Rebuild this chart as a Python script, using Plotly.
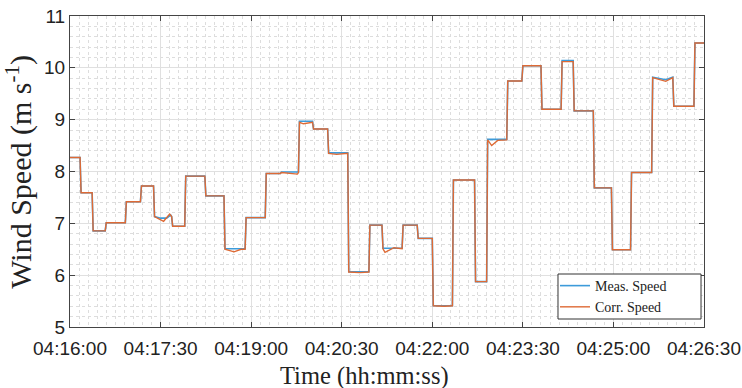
import numpy as np
import plotly.graph_objects as go

# Step boundaries in seconds after 04:16:00
step_start = [0, 11, 23, 36, 56, 71, 84, 102, 115, 135, 154, 175, 195, 210, 228,
              242, 257, 277, 298, 311, 331, 346, 361, 381, 403, 415, 435, 450, 469,
              489, 501, 521, 539, 558, 579, 600, 621, 630]

# Measured wind speed level on each step (m/s)
meas_level = [8.27, 7.59, 6.855, 7.01, 7.415, 7.72, 7.13, 6.945, 7.91, 7.53, 6.51,
              7.11, 7.96, 7.99, 8.97, 8.82, 8.36, 6.065, 6.965, 6.52, 6.965, 6.71,
              5.41, 7.835, 5.875, 8.62, 9.745, 10.04, 9.20, 10.14, 9.17, 7.685,
              6.49, 7.98, 9.82, 9.26, 10.48]

# Corrected wind speed level on each step (m/s)
corr_level = [8.27, 7.59, 6.855, 7.01, 7.415, 7.72, 7.13, 6.945, 7.91, 7.53, 6.50,
              7.11, 7.96, 7.98, 8.95, 8.82, 8.35, 6.06, 6.965, 6.51, 6.965, 6.71,
              5.41, 7.835, 5.875, 8.61, 9.745, 10.04, 9.20, 10.12, 9.17, 7.685,
              6.49, 7.98, 9.81, 9.26, 10.48]

# Short excursions inside a step
meas_extra_t = [90, 96, 100, 592]
meas_extra_v = [7.10, 7.10, 7.16, 9.77]
corr_extra_t = [93, 99, 163, 170, 226, 232, 265, 288, 313, 322, 372, 419, 425, 592]
corr_extra_v = [7.04, 7.18, 6.45, 6.50, 7.95, 8.92, 8.33, 6.05, 6.44, 6.53, 5.40,
                8.50, 8.60, 9.74]

# Axis ticks
tick_seconds = [0, 90, 180, 270, 360, 450, 540, 630]
tick_labels = ['04:16:00', '04:17:30', '04:19:00', '04:20:30',
               '04:22:00', '04:23:30', '04:25:00', '04:26:30']

SANS = 'Liberation Sans, Arial, sans-serif'
SERIF = 'Liberation Serif, Times New Roman, serif'


def build(levels, extra_t, extra_v):
    t, v = [], []
    n = len(levels)
    for i, lvl in enumerate(levels):
        t0, t1 = step_start[i], step_start[i + 1]
        end = t1 if i == n - 1 else t1 - 1
        t += [t0, end]
        v += [lvl, lvl]
    t += list(extra_t)
    v += list(extra_v)
    order = np.argsort(t, kind='stable')
    return np.array(t, dtype=float)[order], np.array(v)[order]


mt, mv = build(meas_level, meas_extra_t, meas_extra_v)
ct, cv = build(corr_level, corr_extra_t, corr_extra_v)

fig = go.Figure()
fig.add_trace(go.Scatter(x=mt, y=mv, mode='lines', name='Meas. Speed',
                         line=dict(color='#3D9BDA', width=1.6)))
fig.add_trace(go.Scatter(x=ct, y=cv, mode='lines', name='Corr. Speed',
                         line=dict(color='#DE6A35', width=1.4)))

axis_common = dict(
    showline=True, linecolor='#444444', linewidth=1, mirror='ticks',
    ticks='inside', ticklen=5, tickcolor='#444444', tickwidth=1,
    showgrid=True, gridcolor='#E0E0E0', gridwidth=1,
    zeroline=False, automargin=False,
)

fig.update_xaxes(range=[0, 630], tickvals=tick_seconds, ticktext=tick_labels,
                 ticklabelstandoff=4,
                 tickfont=dict(family=SANS, size=19, color='#222'),
                 minor=dict(dtick=9, tick0=0, showgrid=True, gridcolor='#DDDDDD',
                            griddash='dot', gridwidth=1, ticks=''),
                 **axis_common)
fig.update_yaxes(range=[5, 11], dtick=1, tick0=5,
                 tickfont=dict(family=SANS, size=19, color='#222'),
                 minor=dict(dtick=0.2, tick0=5, showgrid=True, gridcolor='#DDDDDD',
                            griddash='dot', gridwidth=1, ticks=''),
                 **axis_common)

# Legend frame (paper coordinates)
fig.add_shape(type='rect', xref='paper', yref='paper',
              x0=0.7697, x1=0.9953, y0=0.0257, y1=0.1704,
              line=dict(color='#333333', width=1), fillcolor='white', layer='above')

fig.update_layout(
    width=742, height=388,
    margin=dict(l=70, r=38, t=16, b=61),
    paper_bgcolor='white', plot_bgcolor='white',
    showlegend=True,
    legend=dict(x=0.7650, y=0.098, xanchor='left', yanchor='middle',
                bgcolor='rgba(0,0,0,0)', borderwidth=0,
                font=dict(family=SERIF, size=14, color='#222'),
                tracegroupgap=0),
    annotations=[
        dict(text='Time (hh:mm:ss)', xref='paper', yref='paper',
             x=0.464, y=-0.158, xanchor='center', yanchor='middle', showarrow=False,
             font=dict(family=SERIF, size=24.5, color='#222')),
        dict(text='Wind Speed (m s<sup>-1</sup>)', xref='paper', yref='paper',
             x=-0.080, y=0.5, xanchor='center', yanchor='middle', showarrow=False,
             textangle=-90,
             font=dict(family=SERIF, size=30, color='#222')),
    ],
)

fig.write_html('out.html')
